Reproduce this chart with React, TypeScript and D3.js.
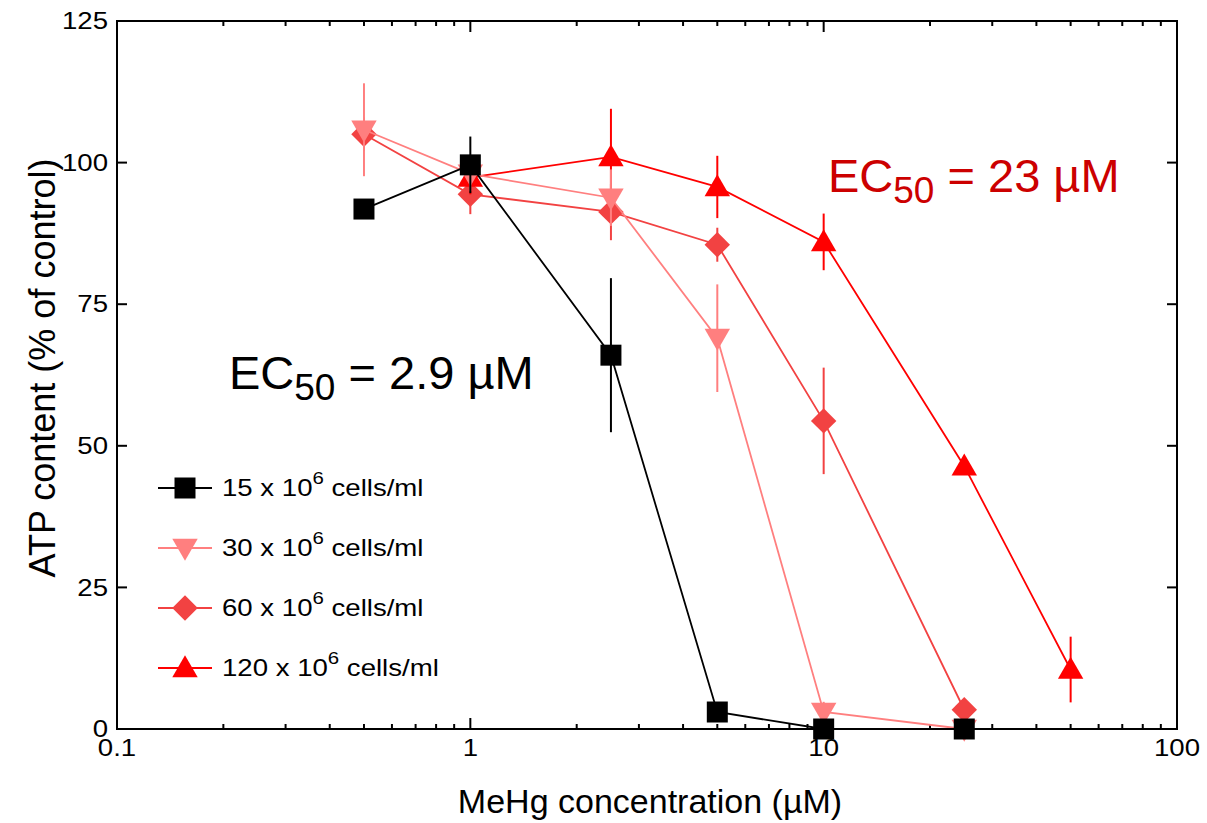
import React, { useEffect, useRef } from 'react';
import * as d3 from 'd3';

// MeHg concentrations (µM)
const conc15 = [0.5, 1, 2.5, 5, 10, 25];
const atp15 = [91.8, 99.6, 66, 3, 0, 0];
const err15 = [0, 5, 13.6, 1.5, 0, 0];

const conc30 = [0.5, 1, 2.5, 5, 10, 25];
const atp30 = [105.8, 98, 93.8, 69, 3, 0];
const err30 = [8.2, 3, 5, 9.5, 1.8, 0];

const conc60 = [0.5, 1, 2.5, 5, 10, 25];
const atp60 = [105, 94.4, 91.3, 85.5, 54.4, 3.4];
const err60 = [3, 3.5, 5, 3, 9.4, 1.8];

const conc120 = [1, 2.5, 5, 10, 25, 50];
const atp120 = [97.4, 101, 95.7, 86, 46.4, 10.5];
const err120 = [3, 8.5, 5.5, 5, 1, 5.8];

const seriesNames = ['15', '30', '60', '120'];
const yTicks = [0, 25, 50, 75, 100, 125];
const xTicks = [0.1, 1, 10, 100];

type Series = { name: string; x: number[]; y: number[]; e: number[]; color: string; shape: string };

const series: Series[] = [
  { name: seriesNames[2], x: conc60, y: atp60, e: err60, color: '#f24242', shape: 'diamond' },
  { name: seriesNames[3], x: conc120, y: atp120, e: err120, color: '#ff0000', shape: 'triangle' },
  { name: seriesNames[1], x: conc30, y: atp30, e: err30, color: '#ff7f7f', shape: 'down' },
  { name: seriesNames[0], x: conc15, y: atp15, e: err15, color: '#000000', shape: 'square' },
];
const legendOrder = [3, 2, 0, 1];

const symbolFor = (shape: string) => {
  if (shape === 'square') return d3.symbol(d3.symbolSquare, 441)();
  if (shape === 'diamond') return d3.symbol(d3.symbolSquare, 324)();
  return d3.symbol(d3.symbolTriangle, 280)();
};
const markTransform = (shape: string, cx: number, cy: number) => {
  if (shape === 'diamond') return `translate(${cx},${cy}) rotate(45)`;
  if (shape === 'down') return `translate(${cx},${cy - 2}) rotate(180)`;
  if (shape === 'triangle') return `translate(${cx},${cy + 2})`;
  return `translate(${cx},${cy})`;
};

const App = () => {
  const ref = useRef<SVGSVGElement>(null);

  useEffect(() => {
    if (!ref.current) return;
    const svg = d3.select(ref.current);
    svg.selectAll('*').remove();

    const left = 117, top = 21, right = 1177, bottom = 729;
    const x = d3.scaleLog().domain([0.1, 100]).range([left, right]);
    const y = d3.scaleLinear().domain([0, 125]).range([bottom, top]);

    const minor: number[] = [];
    [0.1, 1, 10].forEach(d => { for (let k = 2; k <= 9; k++) minor.push(d * k); });

    const axes = svg.append('g').attr('stroke', '#000').attr('stroke-width', 2);
    // log ticks on bottom and top, pointing inward
    xTicks.forEach(v => {
      axes.append('line').attr('x1', x(v)).attr('x2', x(v)).attr('y1', bottom).attr('y2', bottom - 11);
      axes.append('line').attr('x1', x(v)).attr('x2', x(v)).attr('y1', top).attr('y2', top + 11);
    });
    minor.forEach(v => {
      axes.append('line').attr('x1', x(v)).attr('x2', x(v)).attr('y1', bottom).attr('y2', bottom - 5);
      axes.append('line').attr('x1', x(v)).attr('x2', x(v)).attr('y1', top).attr('y2', top + 5);
    });
    yTicks.forEach(v => {
      axes.append('line').attr('x1', left).attr('x2', left + 10).attr('y1', y(v)).attr('y2', y(v));
      axes.append('line').attr('x1', right).attr('x2', right - 10).attr('y1', y(v)).attr('y2', y(v));
    });
    axes.append('rect').attr('x', left).attr('y', top).attr('width', right - left).attr('height', bottom - top)
      .attr('fill', 'none');

    const sans = 'Liberation Sans, Arial, sans-serif';
    const labels = svg.append('g').attr('font-family', sans).attr('font-size', 23);
    yTicks.forEach(v => {
      labels.append('text').attr('x', left - 9).attr('y', y(v)).attr('dy', '0.36em')
        .attr('text-anchor', 'end').attr('transform', `translate(${left - 9},0) scale(1.2,1) translate(${-(left - 9)},0)`)
        .text(v);
    });
    xTicks.forEach(v => {
      labels.append('text').attr('x', x(v)).attr('y', bottom + 27).attr('text-anchor', 'middle')
        .attr('transform', `translate(${x(v)},0) scale(1.2,1) translate(${-x(v)},0)`)
        .text(String(v));
    });

    svg.append('text').attr('x', 650).attr('y', 813).attr('text-anchor', 'middle')
      .attr('font-family', sans).attr('font-size', 34).text('MeHg concentration (µM)');
    svg.append('text').attr('transform', `translate(55,368) rotate(-90)`).attr('text-anchor', 'middle')
      .attr('font-family', sans).attr('font-size', 36).text('ATP content (% of control)');

    const plot = svg.append('g');
    series.forEach(s => {
      const g = plot.append('g');
      const pts = s.x.map((c, i) => ({ c, v: s.y[i], e: s.e[i] }));
      g.selectAll('line.err').data(pts.filter(p => p.e > 0)).join('line')
        .attr('x1', p => x(p.c)).attr('x2', p => x(p.c))
        .attr('y1', p => y(p.v + p.e)).attr('y2', p => y(Math.max(0, p.v - p.e)))
        .attr('stroke', s.color).attr('stroke-width', 2);
      g.append('path').datum(pts)
        .attr('d', d3.line<any>().x(p => x(p.c)).y(p => y(p.v)))
        .attr('fill', 'none').attr('stroke', s.color).attr('stroke-width', 1.8);
      g.selectAll('path.m').data(pts).join('path')
        .attr('d', symbolFor(s.shape))
        .attr('transform', p => markTransform(s.shape, x(p.c), y(p.v)))
        .attr('fill', s.color);
    });

    const leg = svg.append('g');
    legendOrder.forEach((si, i) => {
      const s = series[si];
      const ly = 488 + i * 60;
      leg.append('line').attr('x1', 158).attr('x2', 212).attr('y1', ly).attr('y2', ly)
        .attr('stroke', s.color).attr('stroke-width', 1.8);
      leg.append('path').attr('d', symbolFor(s.shape))
        .attr('transform', markTransform(s.shape, 185, ly))
        .attr('fill', s.color);
      const t = leg.append('text').attr('x', 222).attr('y', ly + 8)
        .attr('transform', `translate(222,0) scale(1.2,1) translate(-222,0)`)
        .attr('font-family', sans).attr('font-size', 23).attr('fill', '#000');
      t.append('tspan').text(`${s.name} x 10`);
      t.append('tspan').attr('dy', -12).attr('font-size', 17).text('6');
      t.append('tspan').attr('dy', 12).text(' cells/ml');
    });

    const ec = (tx: number, ty: number, val: string, color: string) => {
      const t = svg.append('text').attr('x', tx).attr('y', ty).attr('font-family', sans)
        .attr('font-size', 47).attr('fill', color);
      t.append('tspan').text('EC');
      t.append('tspan').attr('dy', 11).attr('font-size', 37).text('50');
      t.append('tspan').attr('dy', -11).text(` = ${val} µM`);
    };
    ec(229, 389, '2.9', '#000000');
    ec(828, 192, '23', '#cc0000');
  }, []);

  return (
    <svg ref={ref} width={1207} height={823}
      style={{ position: 'absolute', left: 0, top: 0, background: '#fff' }} />
  );
};

export default App;
